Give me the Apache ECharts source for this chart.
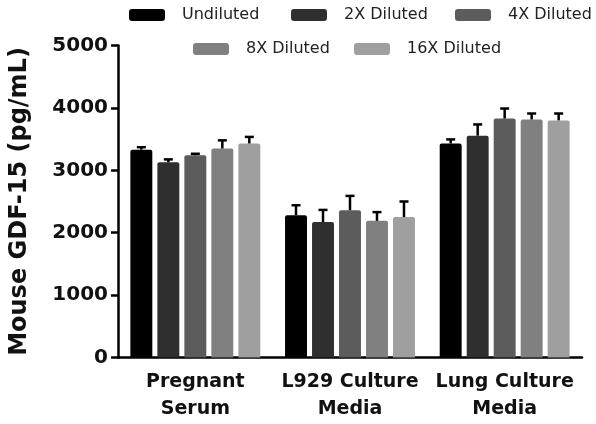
<!DOCTYPE html>
<html>
<head>
<meta charset="utf-8">
<script src="https://cdn.jsdelivr.net/npm/echarts@6/dist/echarts.min.js"></script>
<style>
html,body{margin:0;padding:0;background:#fff;}
#chart{width:596px;height:424px;}
</style>
</head>
<body>
<div id="chart"></div>
<script>
var categories = ['Pregnant\nSerum', 'L929 Culture\nMedia', 'Lung Culture\nMedia'];
var seriesNames = ['Undiluted', '2X Diluted', '4X Diluted', '8X Diluted', '16X Diluted'];
var undiluted = [3330, 2280, 3430];
var dil2x = [3130, 2170, 3555];
var dil4x = [3240, 2360, 3830];
var dil8x = [3350, 2190, 3815];
var dil16x = [3430, 2250, 3800];
var errUndiluted = [40, 160, 65];
var err2x = [45, 195, 180];
var err4x = [25, 230, 160];
var err8x = [130, 140, 95];
var err16x = [105, 250, 110];
var yTicks = [0, 1000, 2000, 3000, 4000, 5000];

var values = [undiluted, dil2x, dil4x, dil8x, dil16x];
var errors = [errUndiluted, err2x, err4x, err8x, err16x];
var colors = ['#000000', '#2f2f2f', '#5c5c5c', '#808080', '#9f9f9f'];

var CAT_GAP = 0.16, BAR_GAP = 0.23, N = 5;
var FONT = 'DejaVu Sans';

var series = [];
values.forEach(function (vals, i) {
  series.push({
    name: seriesNames[i],
    type: 'bar',
    data: vals,
    barCategoryGap: (CAT_GAP * 100) + '%',
    barGap: (BAR_GAP * 100) + '%',
    itemStyle: { color: colors[i], borderRadius: [2, 2, 0, 0] },
    z: 2
  });
});

var errData = [];
values.forEach(function (vals, i) {
  vals.forEach(function (v, c) {
    errData.push([c, v, errors[i][c], i]);
  });
});

series.push({
  type: 'custom',
  name: 'errors',
  data: errData,
  z: 3,
  renderItem: function (params, api) {
    var c = api.value(0), v = api.value(1), e = api.value(2), i = api.value(3);
    var band = api.size([1, 0])[0];
    var groupW = band * (1 - CAT_GAP);
    var barW = groupW / (N + (N - 1) * BAR_GAP);
    var center = api.coord([c, 0])[0];
    var x = center - groupW / 2 + i * barW * (1 + BAR_GAP) + barW / 2;
    var yTop = api.coord([c, v + e])[1];
    var yBar = api.coord([c, v])[1];
    var st = { stroke: '#000', lineWidth: 2.5 };
    return {
      type: 'group',
      children: [
        { type: 'line', shape: { x1: x, y1: yBar, x2: x, y2: yTop }, style: st },
        { type: 'line', shape: { x1: x - 4.5, y1: yTop, x2: x + 4.5, y2: yTop }, style: st }
      ]
    };
  },
  encode: { x: 0, y: 1 }
});

var legendPos = [
  { left: 129, top: 7 },
  { left: 291, top: 7 },
  { left: 455, top: 7 },
  { left: 193, top: 41 },
  { left: 354, top: 41 }
];
var legends = seriesNames.map(function (n, i) {
  return {
    data: [n],
    left: legendPos[i].left,
    top: legendPos[i].top,
    padding: 0,
    icon: 'roundRect',
    itemWidth: 36,
    itemHeight: 12,
    textStyle: { fontFamily: FONT, fontSize: 16, color: '#222', padding: [2, 0, 0, 12] }
  };
});

var chart = echarts.init(document.getElementById('chart'), null, { renderer: 'canvas' });
chart.setOption({
  animation: false,
  backgroundColor: '#fff',
  legend: legends,
  grid: { left: 113, right: 14, top: 45.5, bottom: 66.5, containLabel: false },
  xAxis: {
    type: 'category',
    data: categories,
    axisLine: { lineStyle: { color: '#000', width: 2.5 } },
    axisTick: { alignWithLabel: true, length: 7, lineStyle: { color: '#000', width: 2.5 } },
    axisLabel: { fontFamily: FONT, fontWeight: 'bold', fontSize: 19, color: '#111', lineHeight: 27, margin: 11, interval: 0 }
  },
  yAxis: {
    type: 'value',
    min: yTicks[0],
    max: yTicks[yTicks.length - 1],
    interval: 1000,
    name: 'Mouse GDF-15 (pg/mL)',
    nameLocation: 'middle',
    nameGap: 86,
    nameTextStyle: { fontFamily: FONT, fontWeight: 'bold', fontSize: 24, color: '#111' },
    axisLine: { show: true, lineStyle: { color: '#000', width: 2.5 } },
    axisTick: { show: true, length: 7, lineStyle: { color: '#000', width: 2.5 } },
    splitLine: { show: false },
    axisLabel: {
      fontFamily: FONT, fontWeight: 'bold', fontSize: 20, color: '#111', margin: 10,
      formatter: function (v) { return String(v); }
    }
  },
  series: series
});
</script>
</body>
</html>
